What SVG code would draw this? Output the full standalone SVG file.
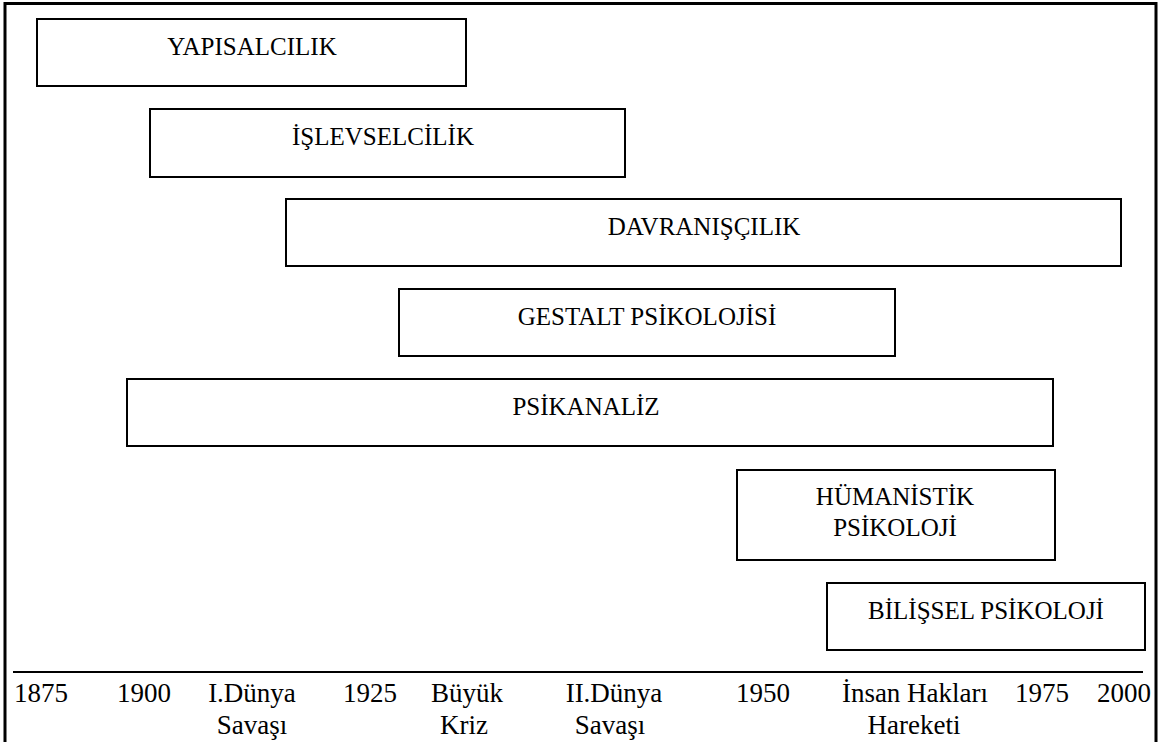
<svg xmlns="http://www.w3.org/2000/svg" width="1162" height="742" viewBox="0 0 1162 742">
  <style>
    .box { fill: #ffffff; stroke: #000000; stroke-width: 2; }
    .frame { fill: none; stroke: #000000; stroke-width: 3; }
    .axis { stroke: #000000; stroke-width: 2.2; }
    .lbl { font-family: "Liberation Serif", "Times New Roman", serif; font-size: 25px; fill: #000000; text-anchor: middle; }
    .tick { font-family: "Liberation Serif", "Times New Roman", serif; font-size: 27px; fill: #000000; }
    .mid { text-anchor: middle; }
  </style>
  <rect width="1162" height="742" fill="#ffffff"/>

  <!-- outer frame: open at the bottom -->
  <path class="frame" d="M5,742 V3.5 H1156 V742"/>

  <!-- schools of psychology as time bars -->
  <g id="yapisalcilik">
    <rect class="box" x="37" y="19" width="429" height="67"/>
    <text class="lbl" x="252" y="55">YAPISALCILIK</text>
  </g>
  <g id="islevselcilik">
    <rect class="box" x="150" y="109" width="475" height="68"/>
    <text class="lbl" x="383" y="145">İŞLEVSELCİLİK</text>
  </g>
  <g id="davranisilik">
    <rect class="box" x="286" y="199" width="835" height="67"/>
    <text class="lbl" x="704" y="235">DAVRANIŞÇILIK</text>
  </g>
  <g id="gestalt">
    <rect class="box" x="399" y="289" width="496" height="67"/>
    <text class="lbl" x="647" y="325">GESTALT PSİKOLOJİSİ</text>
  </g>
  <g id="psikanaliz">
    <rect class="box" x="127" y="379" width="926" height="67"/>
    <text class="lbl" x="586" y="415">PSİKANALİZ</text>
  </g>
  <g id="humanistik">
    <rect class="box" x="737" y="470" width="318" height="90"/>
    <text class="lbl" x="895" y="505">HÜMANİSTİK</text>
    <text class="lbl" x="895" y="536">PSİKOLOJİ</text>
  </g>
  <g id="bilissel">
    <rect class="box" x="827" y="583" width="318" height="67"/>
    <text class="lbl" x="986" y="619">BİLİŞSEL PSİKOLOJİ</text>
  </g>

  <!-- time axis -->
  <g id="connectors">
    <line class="axis" x1="13" y1="672" x2="1143" y2="672"/>
  </g>

  <g id="axis-labels">
    <text class="tick" x="14" y="702">1875</text>
    <text class="tick" x="117" y="702">1900</text>
    <text class="tick mid" x="252" y="702">I.Dünya</text>
    <text class="tick mid" x="252" y="734">Savaşı</text>
    <text class="tick" x="343" y="702">1925</text>
    <text class="tick mid" x="467" y="702">Büyük</text>
    <text class="tick mid" x="464" y="734">Kriz</text>
    <text class="tick mid" x="614" y="702">II.Dünya</text>
    <text class="tick mid" x="610" y="734">Savaşı</text>
    <text class="tick" x="736" y="702">1950</text>
    <text class="tick mid" x="915" y="702">İnsan Hakları</text>
    <text class="tick mid" x="914" y="734">Hareketi</text>
    <text class="tick" x="1015" y="702">1975</text>
    <text class="tick" x="1097" y="702">2000</text>
  </g>
</svg>
